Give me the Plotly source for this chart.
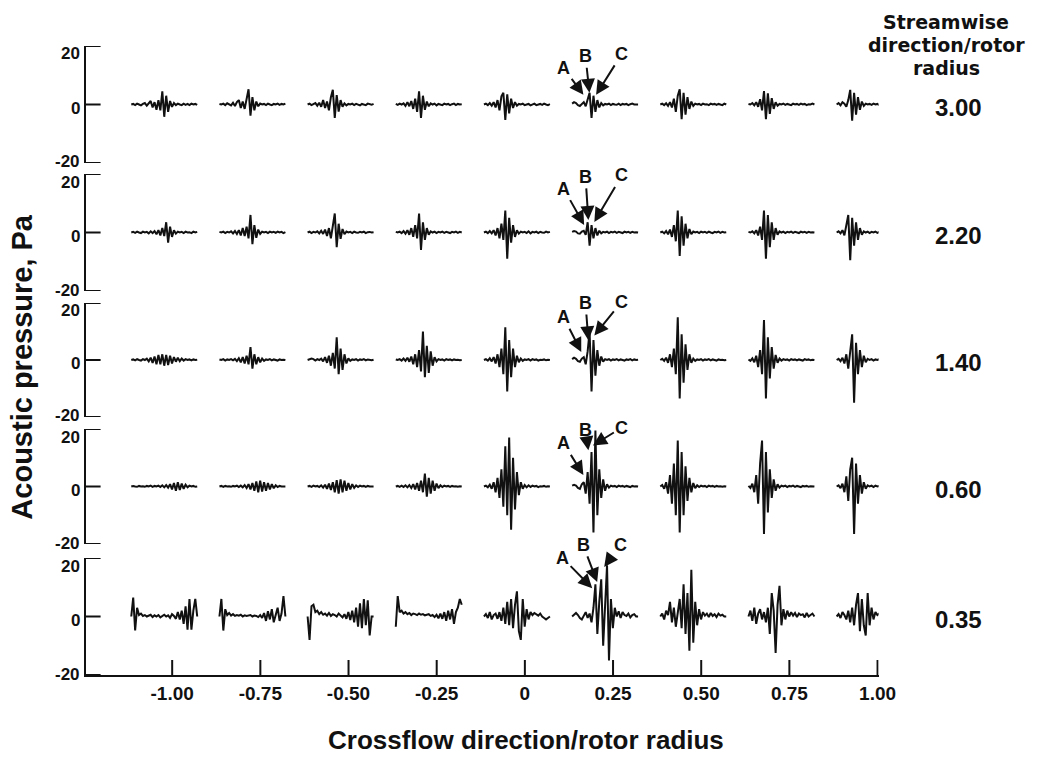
import plotly.graph_objects as go

# ---------------- data ----------------
crossflow = [-1.00, -0.75, -0.50, -0.25, 0.00, 0.25, 0.50, 0.75, 1.00]
x_ticktext = ["-1.00", "-0.75", "-0.50", "-0.25", "0", "0.25", "0.50", "0.75", "1.00"]
streamwise = ["3.00", "2.20", "1.40", "0.60", "0.35"]
y_tickvals = [-20, 0, 20]
y_ticktext = ["-20", "0", "20"]

# acoustic pressure time histories (Pa), one list per crossflow station
p_300 = [
    [0.0, 0.2, -0.2, 0.3, 0.0, -0.3, 0.2, 0.5, -0.4, 0.3, 1.2, -1.0, 0.8, -1.8, 1.5, -2.0, 4.5, -4.2, 3.0, -2.5, 1.2, -0.8, 0.5, -0.2, 0.3, 0.0, -0.2, 0.3, -0.1, 0.2, -0.2, 0.3, 0.0, 0.2, -0.1],
    [0.2, 0.0, 0.3, -0.2, 0.4, 0.0, -0.3, 0.6, -0.5, 0.8, 1.5, -1.2, 1.0, -1.5, 2.0, 5.2, -3.8, 2.5, -2.0, 1.0, -0.6, 0.3, 0.0, 0.2, -0.2, 0.3, 0.0, -0.2, 0.2, 0.0, 0.3, -0.1, 0.2, 0.0, 0.3],
    [0.0, 0.3, -0.2, 0.2, 0.5, -0.4, 0.6, -0.8, 1.5, -1.2, 1.0, -2.0, 2.5, 5.0, -4.6, 3.2, -2.4, 1.5, -0.8, 0.4, -0.3, 0.2, 0.0, 0.3, -0.2, 0.2, 0.0, -0.3, 0.2, 0.1, -0.2, 0.3, 0.0, -0.1, 0.2],
    [0.2, -0.1, 0.3, 0.0, 0.4, -0.5, 0.8, -0.6, 1.2, -1.5, 2.0, -2.5, 4.5, -4.6, 3.0, -1.8, 1.0, -0.6, 0.4, 0.0, 0.3, -0.3, 0.2, 0.0, -0.2, 0.3, 0.0, 0.2, -0.2, 0.1, 0.3, -0.2, 0.2, 0.0, 0.1],
    [0.0, 0.3, -0.2, 0.5, -0.4, 0.8, -1.0, 1.5, -2.0, 2.8, 4.0, -5.3, 3.5, -3.0, 2.0, -1.2, 0.8, -0.4, 0.2, 0.0, 0.3, -0.2, 0.0, 0.2, -0.3, 0.1, 0.3, -0.2, 0.0, 0.2, -0.1, 0.3, 0.0, -0.2, 0.1],
    [0.3, 0.8, 0.5, -0.2, -0.5, 0.3, 0.8, -0.6, 1.5, 4.0, -4.6, 3.0, -2.5, 1.5, -1.0, 0.5, -0.3, 0.2, 0.0, 0.3, -0.2, 0.2, 0.0, -0.1, 0.3, -0.2, 0.2, 0.0, 0.2, -0.2, 0.1, 0.3, 0.0, -0.1, 0.0],
    [0.0, 0.3, -0.2, 0.4, -0.5, 0.8, -1.0, 2.0, -2.5, 3.0, 5.2, -5.0, 4.0, -3.5, 2.5, -1.5, 1.0, -0.5, 0.3, 0.0, 0.2, -0.2, 0.3, 0.0, 0.1, -0.2, 0.3, 0.0, 0.2, -0.1, 0.2, 0.0, -0.2, 0.3, 0.0],
    [0.2, 0.0, 0.5, -0.3, 0.8, -0.8, 1.8, -2.0, 4.6, -5.0, 3.8, -3.2, 2.2, -1.5, 0.8, -0.4, 0.2, 0.0, 0.3, -0.1, 0.2, 0.0, -0.2, 0.3, 0.0, 0.2, -0.1, 0.3, 0.0, 0.2, -0.2, 0.1, 0.0, 0.3, 0.0],
    [0.0, 0.5, -0.3, 0.8, 0.3, -0.8, 1.5, 5.0, -5.5, 4.0, -3.5, 2.5, -1.8, 1.0, -0.5, 0.3, 0.0, 0.2, -0.1, 0.3, 0.0, 0.2, -0.2, 0.1, 0.3, 0.0, -0.1, 0.2, 0.0, 0.3, -0.2, 0.1, 0.0, -0.2, 0.0],
]
p_220 = [
    [0.0, 0.2, -0.1, 0.3, 0.0, -0.2, 0.3, 0.0, 0.2, -0.3, 0.4, -0.2, 0.5, -0.6, 0.8, -1.0, 1.5, -1.2, 3.5, -3.5, 2.0, -1.5, 0.8, -0.4, 0.3, 0.0, 0.2, -0.2, 0.3, 0.0, 0.1, -0.2, 0.3, 0.0, 0.2],
    [0.2, 0.0, 0.3, -0.2, 0.2, 0.0, 0.4, -0.3, 0.5, -0.5, 0.8, -1.0, 1.5, -1.2, 2.0, -2.0, 6.0, -4.0, 2.5, -1.8, 1.0, -0.5, 0.3, 0.0, 0.2, -0.2, 0.3, 0.0, 0.2, -0.1, 0.3, 0.0, 0.2, -0.2, 0.1],
    [0.0, 0.3, -0.2, 0.2, 0.0, 0.4, -0.3, 0.6, -0.5, 1.0, -1.2, 1.5, -2.0, 2.5, 6.5, -5.0, 3.0, -2.2, 1.2, -0.6, 0.3, 0.0, 0.2, -0.2, 0.3, 0.0, -0.1, 0.2, 0.0, 0.3, -0.2, 0.1, 0.2, 0.0, 0.1],
    [0.2, 0.0, 0.3, -0.2, 0.5, -0.4, 0.8, -0.8, 1.5, -1.5, 2.5, -2.0, 6.5, -6.0, 3.5, -2.5, 1.5, -0.8, 0.4, 0.0, 0.3, -0.2, 0.2, 0.0, 0.3, -0.1, 0.2, 0.0, -0.2, 0.2, 0.0, 0.3, -0.1, 0.2, 0.0],
    [0.0, 0.3, -0.2, 0.5, -0.3, 0.8, -1.0, 1.5, -2.0, 3.0, -2.5, 7.5, -9.0, 5.0, -3.5, 2.5, -1.5, 0.8, -0.4, 0.3, 0.0, 0.2, -0.2, 0.4, -0.3, 0.2, 0.0, 0.3, -0.2, 0.2, 0.0, -0.1, 0.3, 0.0, 0.2],
    [0.2, 0.5, 0.3, -0.3, -0.4, 0.3, 0.6, -0.8, 3.5, -4.5, 2.5, -2.0, 1.5, -1.0, 0.6, -0.3, 0.2, 0.0, 0.3, -0.2, 0.2, 0.0, 0.3, -0.1, 0.2, 0.0, -0.2, 0.3, 0.0, 0.2, -0.1, 0.2, 0.0, 0.1, 0.0],
    [0.0, 0.3, -0.3, 0.5, -0.6, 1.0, -1.5, 2.5, -3.0, 7.5, -8.0, 5.5, -4.5, 3.0, -2.0, 1.2, -0.6, 0.3, 0.0, 0.2, -0.2, 0.3, 0.0, 0.2, -0.1, 0.3, 0.0, -0.2, 0.2, 0.0, 0.3, -0.1, 0.2, 0.0, 0.1],
    [0.2, 0.0, 0.4, -0.3, 0.8, -1.0, 2.0, -2.5, 7.5, -9.0, 6.0, -5.0, 3.5, -2.5, 1.5, -0.8, 0.4, 0.0, 0.3, -0.2, 0.2, 0.0, 0.3, -0.1, 0.2, 0.0, -0.2, 0.3, 0.0, 0.2, -0.1, 0.2, 0.0, 0.1, 0.0],
    [0.0, 0.4, -0.3, 0.8, -1.0, 2.0, 6.0, -9.5, 5.0, -4.5, 3.5, -2.5, 1.5, -0.8, 0.4, 0.0, 0.3, -0.2, 0.2, 0.0, 0.3, -0.1, 0.2, 0.0, -0.2, 0.3, 0.0, 0.2, -0.1, 0.2, 0.0, 0.1, -0.1, 0.2, 0.0],
]
p_140 = [
    [0.0, 0.2, -0.1, 0.3, 0.0, -0.2, 0.3, 0.0, 0.5, -0.5, 0.8, -1.0, 1.2, -1.5, 1.8, -1.5, 2.0, -2.0, 1.8, -1.8, 1.5, -1.2, 1.0, -0.6, 0.8, -0.4, 0.5, -0.2, 0.3, 0.0, 0.2, -0.1, 0.2, 0.0, 0.1],
    [0.2, 0.0, 0.3, -0.2, 0.2, 0.0, 0.3, -0.1, 0.4, -0.4, 0.6, -0.8, 1.0, -1.2, 1.5, -1.5, 4.5, -3.0, 2.0, -1.5, 1.0, -0.8, 0.5, -0.3, 0.2, 0.0, 0.3, -0.1, 0.2, 0.0, -0.2, 0.2, 0.0, 0.1, 0.0],
    [0.0, 0.2, 0.5, 0.3, -0.2, 0.3, 0.0, 0.5, -0.5, 1.0, -1.0, 1.5, -2.0, 2.5, -3.0, 8.0, -5.0, 4.0, -3.5, 2.0, -1.2, 0.6, -0.3, 0.2, 0.0, 0.3, -0.2, 0.2, 0.0, 0.3, -0.1, 0.2, 0.0, -0.1, 0.1],
    [0.2, 0.0, 0.3, -0.2, 0.5, -0.3, 0.8, -0.6, 1.2, -1.5, 2.0, -2.5, 3.5, -4.0, 10.0, -6.0, 5.0, -4.5, 3.0, -2.0, 1.0, -0.5, 0.3, 0.0, 0.2, -0.2, 0.3, 0.0, 0.2, -0.1, 0.2, 0.0, 0.1, -0.1, 0.0],
    [0.0, 0.3, -0.2, 0.6, -0.5, 1.0, -1.2, 2.0, -2.5, 4.0, -5.0, 11.5, -11.0, 7.0, -6.0, 4.0, -2.5, 1.5, -0.8, 0.5, -0.3, 0.2, 0.0, 0.3, -0.2, 0.3, 0.0, 0.2, -0.2, 0.1, 0.0, 0.2, -0.1, 0.1, 0.0],
    [0.3, 0.8, 0.4, -0.4, -0.6, 0.5, 1.0, -1.5, 3.0, 10.0, -11.0, 7.0, -5.5, 3.5, -2.0, 1.2, -0.6, 0.3, 0.0, 0.3, -0.2, 0.2, 0.0, 0.3, -0.1, 0.2, 0.0, -0.2, 0.2, 0.0, 0.3, -0.1, 0.2, 0.0, 0.1],
    [0.0, 0.4, -0.3, 0.8, -1.0, 2.0, -2.5, 4.0, -5.0, 15.0, -13.5, 9.0, -8.0, 5.5, -3.5, 2.0, -1.0, 0.5, -0.3, 0.2, 0.0, 0.3, -0.2, 0.2, 0.0, 0.3, -0.1, 0.2, 0.0, -0.2, 0.2, 0.0, 0.1, -0.1, 0.0],
    [0.2, -0.3, 0.6, -0.8, 1.5, -2.5, 3.5, -5.0, 14.0, -13.5, 8.0, -6.5, 4.5, -3.0, 1.8, -1.0, 0.5, -0.2, 0.3, 0.0, 0.2, -0.2, 0.3, 0.0, 0.2, -0.1, 0.2, 0.0, -0.2, 0.3, 0.0, 0.2, -0.1, 0.1, 0.0],
    [0.0, 0.4, -0.4, 0.8, -1.2, 2.0, -3.0, 4.0, 9.0, -15.0, 6.0, -5.0, 3.5, -2.5, 1.5, -0.8, 0.4, 0.0, 0.3, -0.2, 0.2, 0.0, 0.3, -0.1, 0.2, 0.0, -0.2, 0.2, 0.0, 0.3, -0.1, 0.2, 0.0, 0.1, 0.0],
]
p_060 = [
    [0.0, 0.2, 0.0, -0.1, 0.2, 0.0, 0.1, -0.1, 0.2, 0.0, 0.3, -0.1, 0.2, 0.0, 0.3, -0.2, 0.4, -0.3, 0.5, -0.4, 0.8, -1.0, 1.2, -1.5, 1.5, -1.2, 1.0, -0.8, 0.6, -0.3, 0.3, 0.0, 0.2, -0.1, 0.0],
    [0.0, 0.2, -0.1, 0.2, 0.0, 0.1, -0.1, 0.2, 0.0, 0.3, -0.2, 0.3, -0.3, 0.5, -0.5, 0.8, -1.0, 1.2, -1.5, 1.8, -2.0, 2.0, -1.8, 1.5, -1.5, 1.2, -1.0, 0.8, -0.6, 0.4, -0.2, 0.2, 0.0, 0.1, 0.0],
    [0.0, 0.2, -0.1, 0.3, 0.0, 0.2, -0.2, 0.4, -0.4, 0.6, -0.8, 1.0, -1.2, 1.5, -2.0, 2.2, -2.5, 2.5, -2.0, 2.0, -1.5, 1.2, -1.0, 0.8, -0.5, 0.4, -0.2, 0.3, 0.0, 0.2, -0.1, 0.2, 0.0, 0.1, 0.0],
    [0.0, 0.2, -0.1, 0.3, -0.2, 0.4, -0.3, 0.5, -0.5, 0.8, -1.0, 1.2, -1.5, 2.0, -2.0, 4.5, -3.5, 3.0, -2.5, 2.0, -1.5, 1.0, -0.6, 0.4, -0.2, 0.3, 0.0, 0.2, -0.1, 0.2, 0.0, 0.1, -0.1, 0.1, 0.0],
    [0.0, 0.3, -0.3, 0.6, -0.8, 1.5, -2.0, 3.0, -4.0, 6.0, -7.0, 14.0, -10.0, 17.0, -15.0, 10.0, -8.0, 5.0, -3.0, 1.5, -0.8, 0.5, -0.3, 0.4, -0.2, 0.3, 0.0, 0.2, -0.2, 0.1, 0.0, 0.2, -0.1, 0.1, 0.0],
    [0.3, 0.6, 0.3, -0.5, -0.8, 0.8, 1.5, -2.5, 5.0, -6.0, 12.0, -16.0, 19.5, -10.0, 6.0, -4.0, 2.5, -1.5, 0.8, -0.4, 0.3, 0.0, 0.2, -0.2, 0.3, 0.0, 0.2, -0.1, 0.2, 0.0, -0.2, 0.2, 0.0, 0.1, 0.0],
    [0.0, 0.5, -0.8, 1.5, -2.5, 4.0, -6.0, 8.0, -10.0, 16.0, -16.0, 12.0, -10.0, 7.0, -5.0, 3.0, -2.0, 1.2, -0.6, 0.4, -0.2, 0.3, 0.0, 0.2, -0.2, 0.3, 0.0, 0.2, -0.1, 0.2, 0.0, 0.1, -0.1, 0.1, 0.0],
    [0.2, -0.5, 1.0, -2.0, 4.0, -6.0, 8.0, 16.0, -16.5, 12.0, -9.0, 6.0, -4.0, 2.5, -1.5, 0.8, -0.4, 0.3, 0.0, 0.3, -0.2, 0.2, 0.0, 0.3, -0.1, 0.2, 0.0, -0.2, 0.2, 0.0, 0.2, -0.1, 0.1, 0.0, 0.0],
    [0.0, 0.4, -0.6, 1.0, -2.0, 3.5, -5.0, 6.0, 10.0, -16.5, 8.0, -6.0, 4.0, -2.5, 1.5, -0.8, 0.4, 0.0, 0.3, -0.2, 0.3, 0.0, 0.2, -0.1, 0.2, 0.0, -0.2, 0.2, 0.0, 0.3, -0.1, 0.2, 0.0, 0.1, 0.0],
]
p_035 = [
    [0.0, 6.5, -4.8, 3.0, 0.5, 1.0, 0.2, 0.5, 0.0, 0.3, 0.6, -0.2, 0.4, 0.0, 0.5, -0.3, 0.3, 0.6, 0.0, 0.4, -0.5, 0.8, 0.2, -0.8, 1.5, -1.0, 2.0, -2.5, 3.5, -4.5, 6.0, -4.5, 2.0, 6.0, 0.0],
    [0.0, 6.0, -4.8, 2.5, 0.5, 1.2, 0.3, 0.8, 0.2, 0.5, 0.3, 0.6, 0.0, 0.4, 0.2, 0.3, 0.5, 0.0, 0.3, 0.2, -0.2, 0.5, -0.5, 1.2, -1.5, 1.8, -1.0, 2.5, -2.0, 0.5, 3.0, -1.5, 1.0, 7.0, 0.0],
    [0.0, -8.0, 3.5, 4.0, 1.5, 2.0, 0.8, 1.5, 0.6, 1.0, 0.3, 1.2, 0.2, 0.8, 0.5, 0.0, 1.0, 0.2, -0.3, 0.8, -0.8, 1.5, -1.2, 2.0, -2.0, 3.0, -3.5, 4.5, -4.0, 6.0, -3.0, 5.5, -6.5, 0.0, 0.0],
    [-3.5, 7.0, 1.5, 2.0, 1.0, 1.5, 0.8, 1.2, 0.5, 1.0, 0.8, 0.5, 1.0, 0.6, 0.8, 0.4, 0.6, 0.8, 0.2, 0.5, -0.2, 0.6, -0.6, 1.0, -0.8, 1.5, -1.5, 2.0, -1.0, 2.5, -2.5, 1.5, 3.0, 6.0, 4.0],
    [0.0, 0.8, -0.5, 1.5, -1.0, 0.5, 1.0, -0.8, 1.5, -1.5, 3.0, -2.5, 5.0, -3.0, 6.0, -4.0, 4.0, 8.6, -5.0, -8.0, 6.0, -3.5, 2.5, -1.0, 1.5, 0.5, 1.2, 0.8, 0.3, 1.0, 0.0, -0.5, -1.0, -0.5, 0.0],
    [0.0, 0.5, 1.2, 0.5, -0.5, -1.0, 0.5, 1.5, -0.5, 1.0, -2.0, 3.0, 11.0, -6.0, 5.0, 12.7, -10.0, 4.0, 17.5, -15.0, 6.0, -4.0, 3.0, 0.0, 1.8, -0.5, 1.5, 0.5, 0.2, 1.0, -0.3, 0.5, 0.8, 0.0, 0.0],
    [0.0, 1.0, -1.0, 2.0, 0.5, 5.0, -2.0, 3.0, -3.5, 2.0, 6.0, -4.0, 11.0, -6.0, 8.0, -11.7, 16.0, -9.0, 5.0, -3.0, 2.5, -1.0, 1.5, 0.3, 1.0, -0.2, 1.2, 0.2, 0.8, -0.2, 1.0, 0.3, 0.6, 0.0, 0.0],
    [0.0, 2.0, -1.5, 3.0, -2.5, 1.0, 2.5, -1.0, 1.5, -2.0, 3.0, -6.0, 8.0, 2.0, -12.5, 4.0, 10.5, -3.0, 2.5, -1.0, 2.0, 0.0, 1.5, 0.3, 1.2, -0.2, 1.0, 0.5, 0.8, -0.3, 1.2, 0.0, 0.5, 1.0, 0.0],
    [0.0, 0.8, -0.5, 1.5, 0.5, -1.0, 2.0, -2.0, 3.0, -3.0, 4.0, 8.0, -5.0, 6.0, -3.0, -6.5, 8.0, -3.0, 3.0, -1.0, 1.5, 0.5, 1.0, -0.3, 1.2, 0.2, 0.6, 1.0, 0.0, 0.8, 0.3, 1.0, -0.2, 0.5, 0.0],
]
rows = [p_300, p_220, p_140, p_060, p_035]

# A/B/C pointer labels at the 0.25 station: (label, label_x, label_y, tip_x, tip_y) per row
pointers = [
    [("A", 0.110, 12.5, 0.166, 3.3), ("B", 0.172, 16.5, 0.183, 4.0), ("C", 0.275, 17.3, 0.202, 3.3)],
    [("A", 0.110, 15.0, 0.168, 2.6), ("B", 0.172, 19.0, 0.180, 4.3), ("C", 0.275, 19.5, 0.197, 3.6)],
    [("A", 0.110, 15.0, 0.160, 2.8), ("B", 0.172, 20.0, 0.180, 6.9), ("C", 0.275, 20.5, 0.197, 8.6)],
    [("A", 0.110, 15.0, 0.166, 4.0), ("B", 0.172, 19.5, 0.180, 12.6), ("C", 0.275, 20.5, 0.193, 14.3)],
    [("A", 0.107, 20.0, 0.191, 9.7), ("B", 0.165, 24.5, 0.205, 11.8), ("C", 0.270, 24.5, 0.225, 16.9)],
]

# ---------------- layout constants ----------------
W, H = 1055, 758
X_RANGE = [-1.2455, 1.003]
X_DOMAIN = [87 / W, 893 / W]
panel_px = [(46, 163), (174, 291), (303, 417), (429, 544), (558, 675)]
WIN_START, WIN_WIDTH = -0.116, 0.187
FONT = "Liberation Sans, Arial, Helvetica, sans-serif"
WIDE_FONT = "DejaVu Sans, Liberation Sans, sans-serif"
INK = "#111111"
TICK_LEN = 15
ytick_shift = {20: -8, 0: -4, -20: 1}

fig = go.Figure()
layout = dict(
    width=W, height=H, margin=dict(l=0, r=0, t=0, b=0),
    paper_bgcolor="white", plot_bgcolor="white", showlegend=False,
    font=dict(family=FONT, color=INK, size=19, weight="bold"),
)
annotations = []
shapes = []

for r, (row, (top, bot)) in enumerate(zip(rows, panel_px)):
    k = r + 1
    xa = "x" if k == 1 else f"x{k}"
    ya = "y" if k == 1 else f"y{k}"
    for pos, sig in zip(crossflow, row):
        n = len(sig)
        xs = [pos + WIN_START + WIN_WIDTH * i / (n - 1) for i in range(n)]
        fig.add_trace(go.Scatter(x=xs, y=sig, mode="lines", xaxis=xa, yaxis=ya,
                                 line=dict(color=INK, width=2), hoverinfo="skip"))
    ydom = [1 - bot / H, 1 - top / H]
    last = (k == len(rows))
    layout["xaxis" if k == 1 else f"xaxis{k}"] = dict(
        domain=X_DOMAIN, range=X_RANGE, anchor=ya, fixedrange=True,
        showgrid=False, zeroline=False, visible=last,
        showline=last, linecolor=INK, linewidth=2, ticks="",
        tickvals=crossflow, ticktext=x_ticktext,
        tickfont=dict(family=FONT, size=19, color=INK, weight="bold"),
    )
    layout["yaxis" if k == 1 else f"yaxis{k}"] = dict(
        domain=ydom, range=[-20, 20], anchor=xa, fixedrange=True,
        showgrid=False, zeroline=False, showline=True, linecolor=INK, linewidth=2,
        ticks="", showticklabels=False,
    )
    # inward y ticks and their labels
    for v, txt in zip(y_tickvals, y_ticktext):
        shapes.append(dict(type="line", xref=f"{xa} domain", xsizemode="pixel", xanchor=0,
                           x0=0, x1=TICK_LEN, yref=ya, y0=v, y1=v,
                           line=dict(color=INK, width=2)))
        annotations.append(dict(text=txt, xref="paper", yref=ya, x=83 / W, y=v,
                                yshift=ytick_shift[v], showarrow=False,
                                xanchor="right", yanchor="middle",
                                font=dict(family=FONT, size=17, color=INK, weight="bold")))
    if last:
        for v in crossflow:
            shapes.append(dict(type="line", xref=xa, x0=v, x1=v, yref=f"{ya} domain",
                               ysizemode="pixel", yanchor=0, y0=0, y1=TICK_LEN,
                               line=dict(color=INK, width=2)))
    # streamwise station label on the right
    annotations.append(dict(text=streamwise[r], xref="paper", yref=ya, x=974 / W, y=0,
                            yshift=-3, showarrow=False, xanchor="center", yanchor="middle",
                            font=dict(family=FONT, size=24, color=INK, weight="bold")))
    for lab, lx, ly, tx, ty in pointers[r]:
        annotations.append(dict(text=lab, x=tx, y=ty, ax=lx, ay=ly, xref=xa, yref=ya,
                                axref=xa, ayref=ya, showarrow=True, arrowhead=2,
                                arrowsize=1.4, arrowwidth=2, arrowcolor=INK, standoff=0,
                                font=dict(family=FONT, size=18, color=INK, weight="bold")))

for txt, ypx in [("Streamwise", 22), ("direction/rotor", 45), ("radius", 68)]:
    annotations.append(dict(text=txt, xref="paper", yref="paper", x=962 / W, y=1 - ypx / H,
                            showarrow=False, xanchor="center", yanchor="middle",
                            font=dict(family=WIDE_FONT, size=19, color=INK, weight="bold")))
annotations += [
    dict(text="Acoustic pressure, Pa", xref="paper", yref="paper", x=22 / W, y=1 - 367 / H,
         showarrow=False, textangle=-90, xanchor="center", yanchor="middle",
         font=dict(family=FONT, size=29, color=INK, weight="bold")),
    dict(text="Crossflow direction/rotor radius", xref="paper", yref="paper", x=535 / W,
         y=1 - 740 / H, showarrow=False, xanchor="center", yanchor="middle",
         font=dict(family=FONT, size=26, color=INK, weight="bold")),
]
layout["annotations"] = annotations
layout["shapes"] = shapes
fig.update_layout(**layout)
fig.write_html("out.html")
